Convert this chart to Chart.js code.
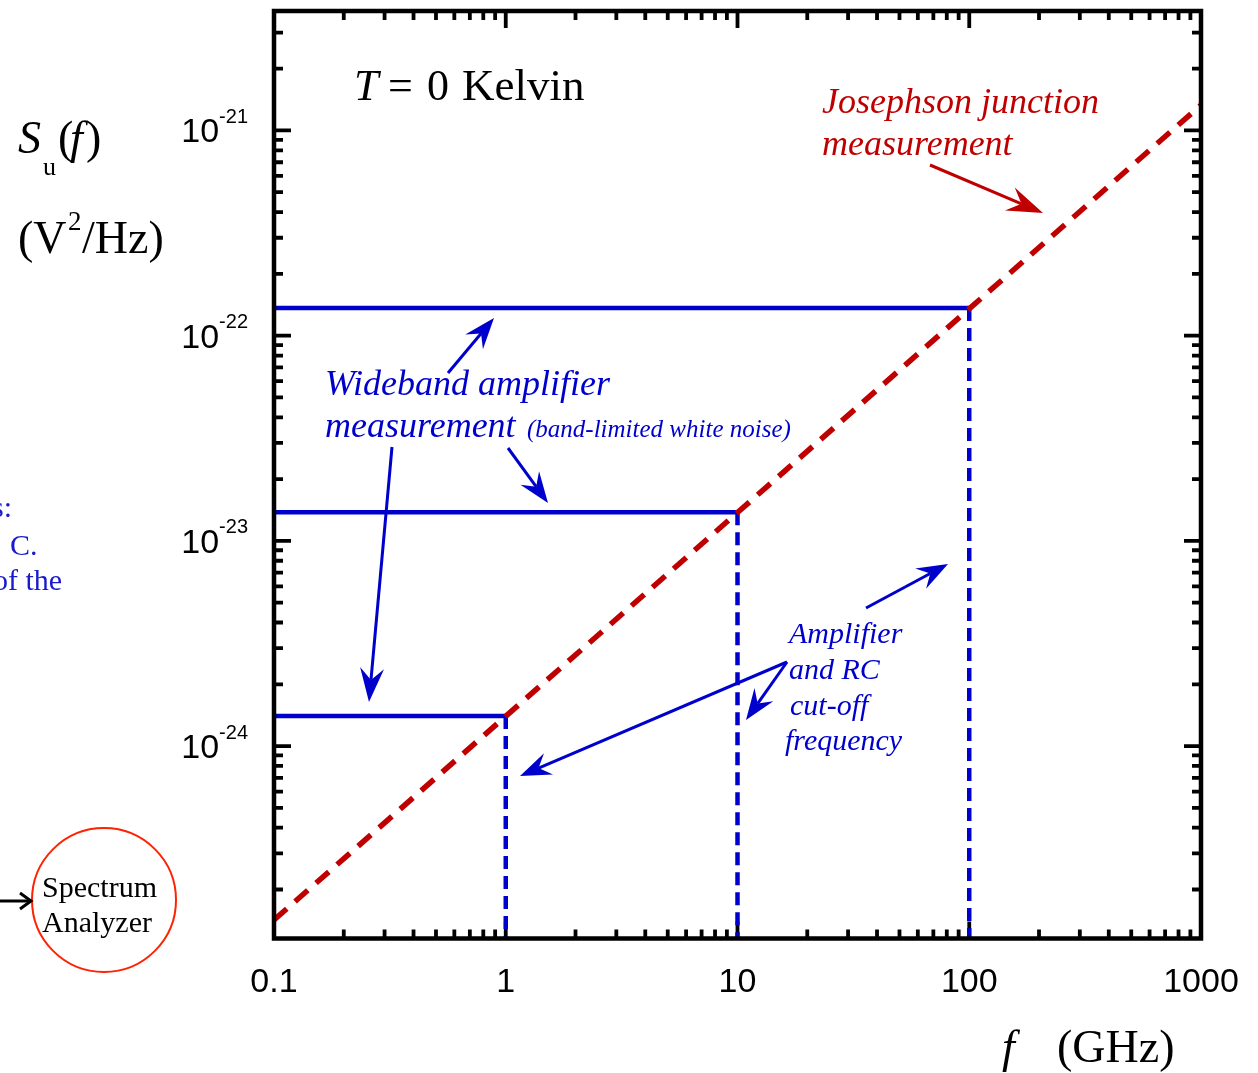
<!DOCTYPE html>
<html>
<head>
<meta charset="utf-8">
<script src="https://cdn.jsdelivr.net/npm/chart.js@4.4.1/dist/chart.umd.min.js"></script>
<style>
  html, body { margin: 0; padding: 0; background: #ffffff; }
  canvas { display: block; }
</style>
</head>
<body>
<canvas id="c" width="1258" height="1073"></canvas>
<script>
// ---------------- data ----------------
const xMin = 0.1, xMax = 1000;          // GHz
const yMin = 1.154e-25, yMax = 3.82e-21; // V^2/Hz
const josephsonF = [0.1, 1000];
const josephsonS = [1.42e-25, 1.33e-21];
const ampCutoffs = [1, 10, 100];                 // GHz
const ampLevels = [1.40e-24, 1.38e-23, 1.365e-22]; // V^2/Hz
const xTickValues = [0.1, 1, 10, 100, 1000];
const xTickLabels = ['0.1', '1', '10', '100', '1000'];
const yTickExponents = [-24, -23, -22, -21];

const BLUE = '#0000cc';
const RED = '#c00000';
const SERIF = '"Liberation Serif", "Times New Roman", serif';
const SANS = '"Liberation Sans", Arial, sans-serif';

// ---------------- datasets ----------------
const datasets = [];
datasets.push({
  label: 'Josephson junction measurement',
  data: josephsonF.map((f, i) => ({ x: f, y: josephsonS[i] })),
  borderColor: RED, borderWidth: 5.5, borderDash: [17, 11], borderCapStyle: 'butt',
  pointRadius: 0, fill: false, order: 0
});
ampCutoffs.forEach((fc, i) => {
  datasets.push({
    label: 'Wideband ' + fc,
    data: [{ x: xMin, y: ampLevels[i] }, { x: fc, y: ampLevels[i] }],
    borderColor: BLUE, borderWidth: 4.5, pointRadius: 0, fill: false, order: 2
  });
  datasets.push({
    label: 'Cut-off ' + fc,
    data: [{ x: fc, y: ampLevels[i] }, { x: fc, y: yMin }],
    borderColor: BLUE, borderWidth: 4.5, borderDash: [13, 7], borderCapStyle: 'butt',
    pointRadius: 0, fill: false, order: 1
  });
});

// ---------------- helpers ----------------
function txt(ctx, s, x, y, font, color, align) {
  ctx.save();
  ctx.font = font;
  ctx.fillStyle = color;
  ctx.textAlign = align || 'left';
  ctx.textBaseline = 'alphabetic';
  ctx.fillText(s, x, y);
  ctx.restore();
}
function arrow(ctx, x1, y1, x2, y2, color, lw, L, W) {
  const a = Math.atan2(y2 - y1, x2 - x1);
  const ux = Math.cos(a), uy = Math.sin(a);
  const nx = -uy, ny = ux;
  const notch = L * 0.65;
  ctx.save();
  ctx.strokeStyle = color; ctx.fillStyle = color; ctx.lineWidth = lw; ctx.lineCap = 'butt';
  ctx.beginPath(); ctx.moveTo(x1, y1); ctx.lineTo(x2 - ux * notch, y2 - uy * notch); ctx.stroke();
  ctx.beginPath();
  ctx.moveTo(x2, y2);
  ctx.lineTo(x2 - ux * L + nx * W, y2 - uy * L + ny * W);
  ctx.lineTo(x2 - ux * notch, y2 - uy * notch);
  ctx.lineTo(x2 - ux * L - nx * W, y2 - uy * L - ny * W);
  ctx.closePath(); ctx.fill();
  ctx.restore();
}
function minorValues(lo, hi) {
  const out = [];
  for (let e = Math.floor(Math.log10(lo)) - 1; e <= Math.ceil(Math.log10(hi)); e++) {
    for (let m = 1; m <= 9; m++) {
      const v = m * Math.pow(10, e);
      if (v >= lo * 0.9999 && v <= hi * 1.0001) out.push({ v: v, major: m === 1 });
    }
  }
  return out;
}

// ---------------- plugin: frame, ticks, labels, annotations ----------------
const decor = {
  id: 'decor',
  beforeDatasetsDraw(chart) {
    const ctx = chart.ctx, a = chart.chartArea;
    const xs = chart.scales.x, ys = chart.scales.y;
    const left = a.left, right = a.right, top = a.top, bottom = a.bottom;
    ctx.save();
    ctx.strokeStyle = '#000'; ctx.lineWidth = 3.8; ctx.lineCap = 'butt';
    ctx.beginPath();
    minorValues(xMin, xMax).forEach(t => {
      const px = xs.getPixelForValue(t.v);
      const len = t.major ? 17 : 9;
      ctx.moveTo(px, bottom); ctx.lineTo(px, bottom - len);
      ctx.moveTo(px, top); ctx.lineTo(px, top + len);
    });
    minorValues(yMin, yMax).forEach(t => {
      const py = ys.getPixelForValue(t.v);
      const len = t.major ? 17 : 9;
      ctx.moveTo(left, py); ctx.lineTo(left + len, py);
      ctx.moveTo(right, py); ctx.lineTo(right - len, py);
    });
    ctx.stroke();
    ctx.restore();
  },
  afterDatasetsDraw(chart) {
    const ctx = chart.ctx, a = chart.chartArea;
    const xs = chart.scales.x, ys = chart.scales.y;
    // frame
    ctx.save();
    ctx.strokeStyle = '#000'; ctx.lineWidth = 4.5;
    ctx.strokeRect(a.left, a.top, a.right - a.left, a.bottom - a.top);
    ctx.restore();

    // x tick labels
    xTickValues.forEach((v, i) => {
      txt(ctx, xTickLabels[i], xs.getPixelForValue(v), 992, '34px ' + SANS, '#000', 'center');
    });
    // y tick labels 10^e
    yTickExponents.forEach(e => {
      const py = ys.getPixelForValue(Math.pow(10, e));
      ctx.save();
      ctx.font = '20px ' + SANS;
      const sup = '-' + String(-e);
      const supW = ctx.measureText(sup).width;
      ctx.font = '34px ' + SANS;
      const tenW = ctx.measureText('10').width;
      ctx.restore();
      const rightEdge = 248;
      txt(ctx, '10', rightEdge - supW - tenW, py + 12, '34px ' + SANS, '#000');
      txt(ctx, sup, rightEdge - supW, py - 7.5, '20px ' + SANS, '#000');
    });

    // axis titles
    txt(ctx, 'S', 18, 153, 'italic 46px ' + SERIF, '#000');
    txt(ctx, 'u', 43, 175, '26px ' + SERIF, '#000');
    txt(ctx, '(', 58, 153, '46px ' + SERIF, '#000');
    txt(ctx, 'f', 70, 153, 'italic 46px ' + SERIF, '#000');
    txt(ctx, ')', 86, 153, '46px ' + SERIF, '#000');
    txt(ctx, '(V', 18, 253, '46px ' + SERIF, '#000');
    txt(ctx, '2', 68, 230, '27px ' + SERIF, '#000');
    txt(ctx, '/Hz)', 82, 253, '46px ' + SERIF, '#000');

    txt(ctx, 'f', 1002, 1062, 'italic 46px ' + SERIF, '#000');
    txt(ctx, '(GHz)', 1057, 1062, '46px ' + SERIF, '#000');

    // T = 0 Kelvin
    txt(ctx, 'T', 354, 100, 'italic 44px ' + SERIF, '#000');
    txt(ctx, '=', 388, 100, '44px ' + SERIF, '#000');
    txt(ctx, '0', 427, 100, '44px ' + SERIF, '#000');
    txt(ctx, 'Kelvin', 462, 100, '45px ' + SERIF, '#000');

    // Josephson
    txt(ctx, 'Josephson junction', 822, 113, 'italic 36px ' + SERIF, RED);
    txt(ctx, 'measurement', 822, 155, 'italic 36px ' + SERIF, RED);
    arrow(ctx, 930, 165, 1043, 213, RED, 3, 36, 12.5);

    // Wideband
    txt(ctx, 'Wideband amplifier', 325, 395, 'italic 36px ' + SERIF, BLUE);
    txt(ctx, 'measurement', 325, 437, 'italic 36px ' + SERIF, BLUE);
    txt(ctx, '(band-limited white noise)', 527, 437, 'italic 25px ' + SERIF, BLUE);
    arrow(ctx, 448, 373, 494, 318, BLUE, 3, 31, 11.5);
    arrow(ctx, 508, 448, 548, 503, BLUE, 3, 31, 11.5);
    arrow(ctx, 392, 447, 369, 702, BLUE, 3, 34, 12);

    // Amplifier cut-off
    txt(ctx, 'Amplifier', 789, 643, 'italic 30px ' + SERIF, BLUE);
    txt(ctx, 'and RC', 789, 679, 'italic 30px ' + SERIF, BLUE);
    txt(ctx, 'cut-off', 790, 715, 'italic 30px ' + SERIF, BLUE);
    txt(ctx, 'frequency', 785, 750, 'italic 30px ' + SERIF, BLUE);
    arrow(ctx, 866, 608, 948, 564, BLUE, 3, 31, 11.5);
    arrow(ctx, 787, 662, 520, 776, BLUE, 3, 31, 11.5);
    arrow(ctx, 787, 662, 746, 720, BLUE, 3, 31, 11.5);

    // cropped text from neighbouring panel
    txt(ctx, 's:', -8, 517, '30px ' + SERIF, '#1a1acc');
    txt(ctx, 'C.', 10, 555, '30px ' + SERIF, '#1a1acc');
    txt(ctx, 'of the', -7, 590, '30px ' + SERIF, '#1a1acc');

    // spectrum analyzer
    ctx.save();
    ctx.strokeStyle = '#ff2200'; ctx.lineWidth = 2;
    ctx.beginPath(); ctx.arc(104, 900, 72, 0, Math.PI * 2); ctx.stroke();
    ctx.strokeStyle = '#000'; ctx.lineWidth = 3;
    ctx.beginPath(); ctx.moveTo(0, 901); ctx.lineTo(31, 901); ctx.stroke();
    ctx.beginPath(); ctx.moveTo(20, 893); ctx.lineTo(31, 901); ctx.lineTo(20, 909); ctx.stroke();
    ctx.restore();
    txt(ctx, 'Spectrum', 42, 897, '30px ' + SERIF, '#000');
    txt(ctx, 'Analyzer', 42, 932, '30px ' + SERIF, '#000');
  }
};

new Chart(document.getElementById('c'), {
  type: 'line',
  data: { datasets: datasets },
  options: {
    responsive: false,
    animation: false,
    devicePixelRatio: 1,
    layout: { padding: { left: 274, top: 11, right: 57, bottom: 134.5 } },
    plugins: { legend: { display: false }, tooltip: { enabled: false } },
    scales: {
      x: { type: 'logarithmic', min: xMin, max: xMax, bounds: 'data', display: false,
           afterBuildTicks: s => { s.min = xMin; s.max = xMax; } },
      y: { type: 'logarithmic', min: yMin, max: yMax, bounds: 'data', display: false,
           afterBuildTicks: s => { s.min = yMin; s.max = yMax; } }
    }
  },
  plugins: [decor]
});
</script>
</body>
</html>
